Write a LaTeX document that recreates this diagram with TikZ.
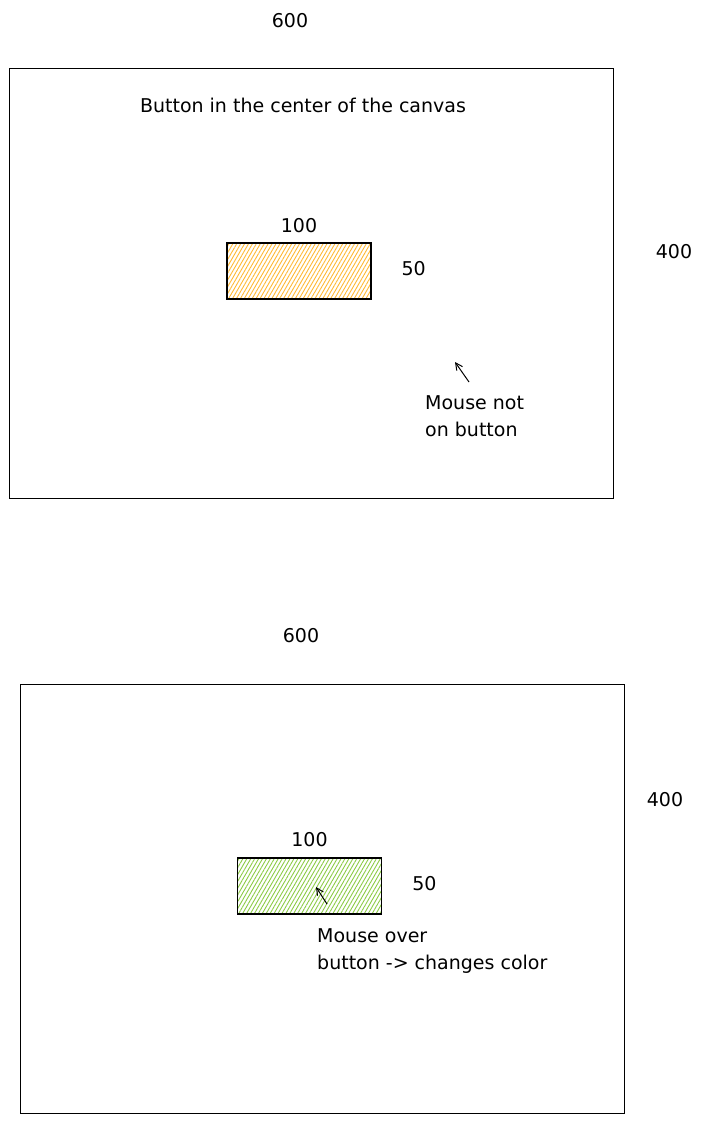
\documentclass[tikz,border=0pt]{standalone}
\usepackage{fontspec}
\setmainfont{DejaVu Sans}
\usetikzlibrary{positioning,patterns.meta,arrows.meta}

\definecolor{btnorange}{HTML}{FFB833}
\definecolor{btngreen}{HTML}{8CCB45}

\tikzset{
  canvasbox/.style={draw, line width=0.9pt},
  buttonbox/.style={draw, line width=1.3pt, minimum width=144pt, minimum height=56pt, inner sep=0pt},
  label/.style={font=\fontsize{19}{27}\selectfont, inner sep=0pt},
  note/.style={label, align=left, anchor=north west},
  cursor/.style={-{Straight Barb[length=7pt,width=7pt]}, line width=1pt},
  hatch/.style={pattern={Lines[angle=60,distance=3.4pt,line width=0.9pt]}},
}

\begin{document}
\begin{tikzpicture}[x=1pt,y=-1pt]
  \useasboundingbox (0,0) rectangle (706,1123);
  % top canvas: mouse not on button
  \node[canvasbox, minimum width=604pt, minimum height=430pt, inner sep=0pt] (canvasA) at (311,283) {};
  \node[label] (widthA) at (290,21) {600};
  \node[label] (heightA) at (674,252) {400};
  \node[label] (titleA) at (303,105) {Button in the center of the canvas};
  \node[buttonbox, hatch, pattern color=btnorange] (btnA) at (299,271) {};
  \node[label, above=10pt of btnA] (bwA) {100};
  \node[label, right=30pt of btnA, yshift=2pt] (bhA) {50};
  \coordinate (tipA) at (455,362);
  \coordinate (tailA) at (469,382);
  \draw[cursor] (tailA) -- (tipA);
  \node[note] (noteA) at (425,395) {Mouse not\\on button};

  % bottom canvas: mouse over button
  \node[canvasbox, minimum width=604pt, minimum height=429pt, inner sep=0pt] (canvasB) at (322,898.5) {};
  \node[label] (widthB) at (301,636) {600};
  \node[label] (heightB) at (665,800) {400};
  \node[buttonbox, hatch, pattern color=btngreen] (btnB) at (309.5,886) {};
  \node[label, above=10pt of btnB] (bwB) {100};
  \node[label, right=30pt of btnB, yshift=2pt] (bhB) {50};
  \coordinate (tipB) at (316,887);
  \coordinate (tailB) at (327,904);
  \draw[cursor] (tailB) -- (tipB);
  \node[note] (noteB) at (317,928) {Mouse over\\button -> changes color};
\end{tikzpicture}
\end{document}
